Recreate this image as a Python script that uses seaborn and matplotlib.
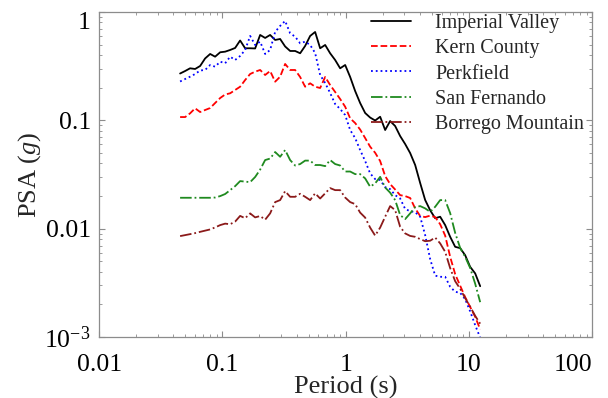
import matplotlib
matplotlib.use("Agg")
import matplotlib.pyplot as plt
from matplotlib.transforms import ScaledTranslation
import seaborn as sns

# Spectral periods (s)
period = [0.0454, 0.0499, 0.0547, 0.0601, 0.0660, 0.0724, 0.0796, 0.0873, 0.0960, 0.1053,
          0.1156, 0.1269, 0.1393, 0.1530, 0.1680, 0.1844, 0.2025, 0.2223, 0.2440, 0.2679,
          0.2941, 0.3229, 0.3545, 0.3893, 0.4274, 0.4692, 0.5152, 0.5655, 0.6210, 0.6820,
          0.7485, 0.8218, 0.9024, 0.991, 1.088, 1.194, 1.311, 1.440, 1.580, 1.735,
          1.905, 2.092, 2.296, 2.521, 2.768, 3.040, 3.337, 3.664, 4.023, 4.416,
          4.849, 5.323, 5.845, 6.417, 7.045, 7.734, 8.49, 9.32, 10.23, 11.24, 12.34]

# Pseudo-spectral acceleration (g) for each record
imperial_valley = [0.2704, 0.2852, 0.3020, 0.2977, 0.3172, 0.3721, 0.4095, 0.3866, 0.4246, 0.4300,
                   0.4458, 0.4652, 0.5455, 0.4622, 0.4622, 0.4603, 0.6133, 0.5754, 0.6133, 0.5513,
                   0.5631, 0.4803, 0.4364, 0.4364, 0.4156, 0.4855, 0.6004, 0.6535, 0.4622, 0.4958,
                   0.4156, 0.3603, 0.3020, 0.3240, 0.2511, 0.1864, 0.1444, 0.1168, 0.1061, 0.0996,
                   0.1079, 0.0814, 0.0985, 0.0886, 0.0716, 0.0604, 0.0499, 0.0387, 0.0264, 0.0184,
                   0.0148, 0.0125, 0.0129, 0.0108, 0.00842, 0.00681, 0.00662, 0.00570, 0.00445, 0.00387, 0.00295]

kern_county = [0.1072, 0.1072, 0.1160, 0.1291, 0.1193, 0.1245, 0.1299, 0.1444, 0.1607, 0.1731,
               0.1776, 0.1905, 0.2042, 0.2355, 0.2676, 0.2811, 0.2914, 0.2620, 0.2852, 0.2272,
               0.2527, 0.3311, 0.2914, 0.2914, 0.2511, 0.2042, 0.2196, 0.2042, 0.1987, 0.2511,
               0.2118, 0.1826, 0.1573, 0.1335, 0.1043, 0.0944, 0.0822, 0.0686, 0.0571, 0.0502,
               0.0421, 0.0306, 0.0258, 0.0230, 0.0204, 0.0200, 0.0192, 0.0154, 0.0131, 0.0128,
               0.0132, 0.0128, 0.0110, 0.00864, 0.00550, 0.00381, 0.00298, 0.00234, 0.00190, 0.00154, 0.00118]

perkfield = [0.2282, 0.2406, 0.2527, 0.2676, 0.2883, 0.2914, 0.3240, 0.3125, 0.3476, 0.3359,
             0.3866, 0.3603, 0.3924, 0.4458, 0.6004, 0.4958, 0.5318, 0.4095, 0.4458, 0.6535,
             0.7427, 0.8260, 0.6359, 0.5913, 0.5140, 0.5318, 0.4958, 0.4183, 0.2620, 0.2210,
             0.1787, 0.1414, 0.1272, 0.1119, 0.0814, 0.0686, 0.0532, 0.0421, 0.0324, 0.0287,
             0.0281, 0.0242, 0.0232, 0.0204, 0.0190, 0.0152, 0.0145, 0.0142, 0.0129, 0.00873,
             0.00524, 0.00369, 0.00360, 0.00360, 0.00291, 0.00262, 0.00256, 0.00224, 0.00173, 0.00129, 0.000987]

san_fernando = [0.0193, 0.0193, 0.0193, 0.0193, 0.0193, 0.0193, 0.0193, 0.0194, 0.0200, 0.0209,
                0.0227, 0.0247, 0.0275, 0.0272, 0.0269, 0.0300, 0.0351, 0.0430, 0.0444, 0.0510,
                0.0461, 0.0532, 0.0430, 0.0383, 0.0395, 0.0425, 0.0425, 0.0387, 0.0387, 0.0378,
                0.0430, 0.0395, 0.0383, 0.0337, 0.0337, 0.0319, 0.0319, 0.0291, 0.0244, 0.0262,
                0.0301, 0.0240, 0.0215, 0.01837, 0.01335, 0.01227, 0.01385, 0.01582, 0.01617, 0.01540,
                0.01432, 0.01593, 0.01837, 0.01837, 0.01393, 0.00915, 0.00665, 0.00551, 0.00435, 0.00311, 0.00210]

borrego_mountain = [0.00855, 0.00873, 0.00891, 0.00911, 0.00936, 0.00960, 0.00985, 0.01028, 0.0108, 0.01114,
                    0.0110, 0.01163, 0.01313, 0.0125, 0.01385, 0.01272, 0.0131, 0.01211, 0.01385, 0.01760,
                    0.01837, 0.0222, 0.0197, 0.0197, 0.0210, 0.0197, 0.01837, 0.0212, 0.0190, 0.0212,
                    0.0237, 0.0227, 0.0227, 0.0194, 0.0176, 0.01687, 0.01408, 0.01266, 0.01024, 0.00864,
                    0.01024, 0.0129, 0.01617, 0.01485, 0.01041, 0.00905, 0.00858, 0.00842, 0.00802, 0.00767,
                    0.00775, 0.00829, 0.00732, 0.00612, 0.00433, 0.00328, 0.00279, 0.00229, 0.00191, 0.00157, 0.00133]

record_names = ["Imperial Valley", "Kern County", "Perkfield", "San Fernando", "Borrego Mountain"]
record_values = [imperial_valley, kern_county, perkfield, san_fernando, borrego_mountain]
record_colors = ["black", "#ff0000", "#0000ff", "#1f8a1f", "#8b1a1a"]
record_styles = ["-", "--", ":", "-.", "-."]

xtick_values = [0.01, 0.1, 1, 10, 100]
xtick_labels = ["0.01", "0.1", "1", "10", "100"]
ytick_values = [1e-3, 1e-2, 1e-1, 1]
ytick_labels = ["$10^{-3}$", "0.01", "0.1", "1"]

sns.set_theme(style="white")
plt.rcParams["font.family"] = ["Liberation Serif", "DejaVu Serif"]
plt.rcParams["mathtext.fontset"] = "custom"
plt.rcParams["mathtext.rm"] = "Liberation Serif"
plt.rcParams["mathtext.it"] = "Liberation Serif:italic"

fig, ax = plt.subplots(figsize=(6.08, 3.98), dpi=100)
fig.subplots_adjust(left=0.163, right=0.974, bottom=0.153, top=0.970)

for name, vals, color, ls in zip(record_names, record_values, record_colors, record_styles):
    sns.lineplot(x=period, y=vals, ax=ax, color=color, linestyle=ls,
                 linewidth=1.3, label=name, estimator=None, sort=False)

ax.set_xscale("log")
ax.set_yscale("log")
ax.set_xlim(0.01, 100)
ax.set_ylim(1e-3, 1)

ax.set_xticks(xtick_values)
ax.set_xticklabels(xtick_labels, fontsize=18.5)
ax.set_yticks(ytick_values)
ax.set_yticklabels(ytick_labels, fontsize=18.5)
ax.get_xticklabels()[-1].set_horizontalalignment("right")
top_label = ax.get_yticklabels()[-1]
top_label.set_verticalalignment("top")
top_label.set_transform(top_label.get_transform() +
                        ScaledTranslation(0, -8 / 72, fig.dpi_scale_trans))

ax.tick_params(which="both", direction="in", top=True, right=True, bottom=True, left=True,
               color="#8c8c8c", labelcolor="black")
ax.tick_params(which="major", length=4, width=0.8)
ax.tick_params(which="minor", length=2.5, width=0.6)
ax.tick_params(axis="x", which="major", pad=12)
ax.tick_params(axis="y", which="major", pad=6)

for spine in ax.spines.values():
    spine.set_color("#8c8c8c")
    spine.set_linewidth(0.9)

ax.set_xlabel("Period (s)", fontsize=19, labelpad=0)
ax.set_ylabel("PSA ($g$)", fontsize=19, labelpad=1)

ax.legend(loc="upper right", bbox_to_anchor=(1.0, 1.018), frameon=False, fontsize=14.5,
          handlelength=2.0, labelspacing=0.3, handletextpad=1.2, borderaxespad=0.0)

fig.savefig("out.png", dpi=100)
